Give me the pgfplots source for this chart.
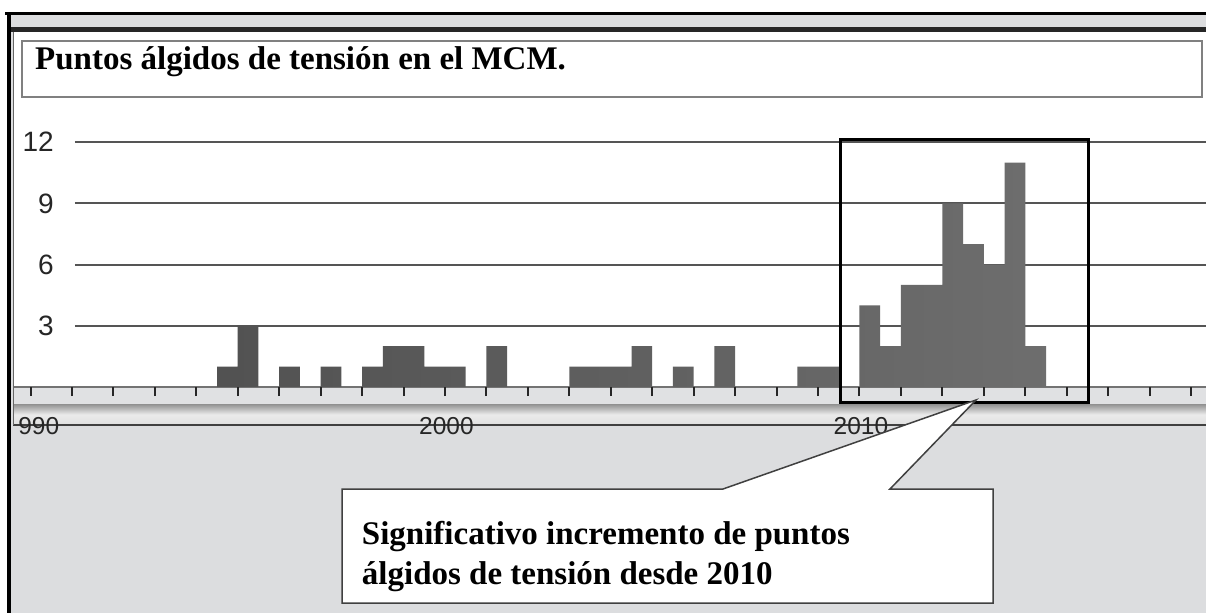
\documentclass[border=0pt]{standalone}
\usepackage{fontspec}
\setmainfont{Liberation Serif}
\setsansfont{Liberation Sans}
\usepackage{pgfplots}
\pgfplotsset{compat=1.18}
\definecolor{bggray}{RGB}{220,221,223}
\definecolor{bandgray}{RGB}{224,225,227}
\definecolor{gridc}{RGB}{85,85,85}
\begin{document}
\begin{tikzpicture}
\useasboundingbox (0,0) rectangle (1206pt,613pt);
% background and frame
\fill[bggray] (0,0) rectangle (1206pt,613pt);
\fill[white] (0,601pt) rectangle (1206pt,613pt);
\fill[white] (0,0) rectangle (6.5pt,613pt);
\fill[black] (5pt,598pt) rectangle (1206pt,601pt);
\fill[black] (6.5pt,0) rectangle (11pt,601pt);
\fill[black!85] (11pt,581pt) rectangle (1206pt,586pt);
\fill[white] (13.3pt,226pt) rectangle (1206pt,581pt);
% axis band
\fill[bandgray] (13.3pt,208pt) rectangle (1206pt,226pt);
\shade[top color=black!40, bottom color=black!12, middle color=black!8] (13.3pt,189pt) rectangle (1206pt,208pt);
\draw[black!55, line width=1.5pt] (13.3pt,226pt) -- (1206pt,226pt);
\draw[black!75, line width=1.5pt] (13.3pt,188pt) -- (1206pt,188pt);
\draw[black!60, line width=1pt] (13.3pt,188pt) -- (13.3pt,581pt);
% title box
\draw[black!50, line width=1.5pt, fill=white] (22pt,516pt) rectangle (1202pt,572pt);
\node[anchor=base west, inner sep=0pt] at (35pt,543pt) {\fontsize{33}{40}\selectfont\bfseries Puntos álgidos de tensión en el MCM.};
\begin{scope}
\clip (19.5pt,0) rectangle (1206pt,613pt);
\begin{axis}[
  at={(13.3pt,226pt)}, anchor=south west,
  scale only axis, width=1192.7pt, height=355pt,
  xmin=1989.585, xmax=2018.36, ymin=0, ymax=17.40,
  clip=false,
  axis line style={draw=none},
  xtick={1990,1991,...,2018},
  xticklabels={1990,{},{},{},{},{},{},{},{},{},2000,{},{},{},{},{},{},{},{},{},2010,{},{},{},{},{},{},{},{}},
  xtick pos=bottom, tick align=outside,
  major tick length=9pt,
  xtick style={line width=2pt, black!85},
  xticklabel style={font=\sffamily\fontsize{24.5}{28}\selectfont, anchor=base, yshift=-38pt, xshift=1.5pt, text=black!85},
  ytick={3,6,9,12},
  ytick style={draw=none},
  yticklabel style={font=\sffamily\fontsize{28}{32}\selectfont, anchor=east, inner sep=0pt, xshift=49.7pt, text=black!85},
  /pgf/number format/assume math mode=true,
]
\draw[gridc, line width=2pt] (axis cs:1991.07,3) -- (axis cs:2018.36,3);
\draw[gridc, line width=2pt] (axis cs:1991.07,6) -- (axis cs:2018.36,6);
\draw[gridc, line width=2pt] (axis cs:1991.07,9) -- (axis cs:2018.36,9);
\draw[gridc, line width=2pt] (axis cs:1991.07,12) -- (axis cs:2018.36,12);
\addplot[ybar, bar width=0.5, bar shift=0pt, draw=none, left color=black!68, right color=black!57] coordinates {
(1994.75,1) (1995.25,3) (1996.25,1) (1997.25,1) (1998.25,1) (1998.75,2)
(1999.25,2) (1999.75,1) (2000.25,1) (2001.25,2) (2003.25,1) (2003.75,1)
(2004.25,1) (2004.75,2) (2005.75,1) (2006.75,2) (2008.75,1) (2009.25,1)
(2010.25,4) (2010.75,2) (2011.25,5) (2011.75,5) (2012.25,9) (2012.75,7)
(2013.25,6) (2013.75,11) (2014.25,2)
};
\draw[black, line width=3pt] (axis cs:2009.53,-0.75) rectangle (axis cs:2015.525,12.11);
\end{axis}
\end{scope}
% callout
\draw[black!75, line width=1.5pt, fill=white, line join=miter]
  (342pt,124pt) -- (723pt,124pt) -- (976pt,213pt) -- (890pt,124pt) -- (993pt,124pt)
  -- (993pt,10pt) -- (342pt,10pt) -- cycle;
\node[anchor=base west, inner sep=0pt] at (361.7pt,69pt) {\fontsize{33}{40}\selectfont\bfseries Significativo incremento de puntos};
\node[anchor=base west, inner sep=0pt] at (361.7pt,29pt) {\fontsize{33}{40}\selectfont\bfseries álgidos de tensión desde 2010};
\end{tikzpicture}
\end{document}
